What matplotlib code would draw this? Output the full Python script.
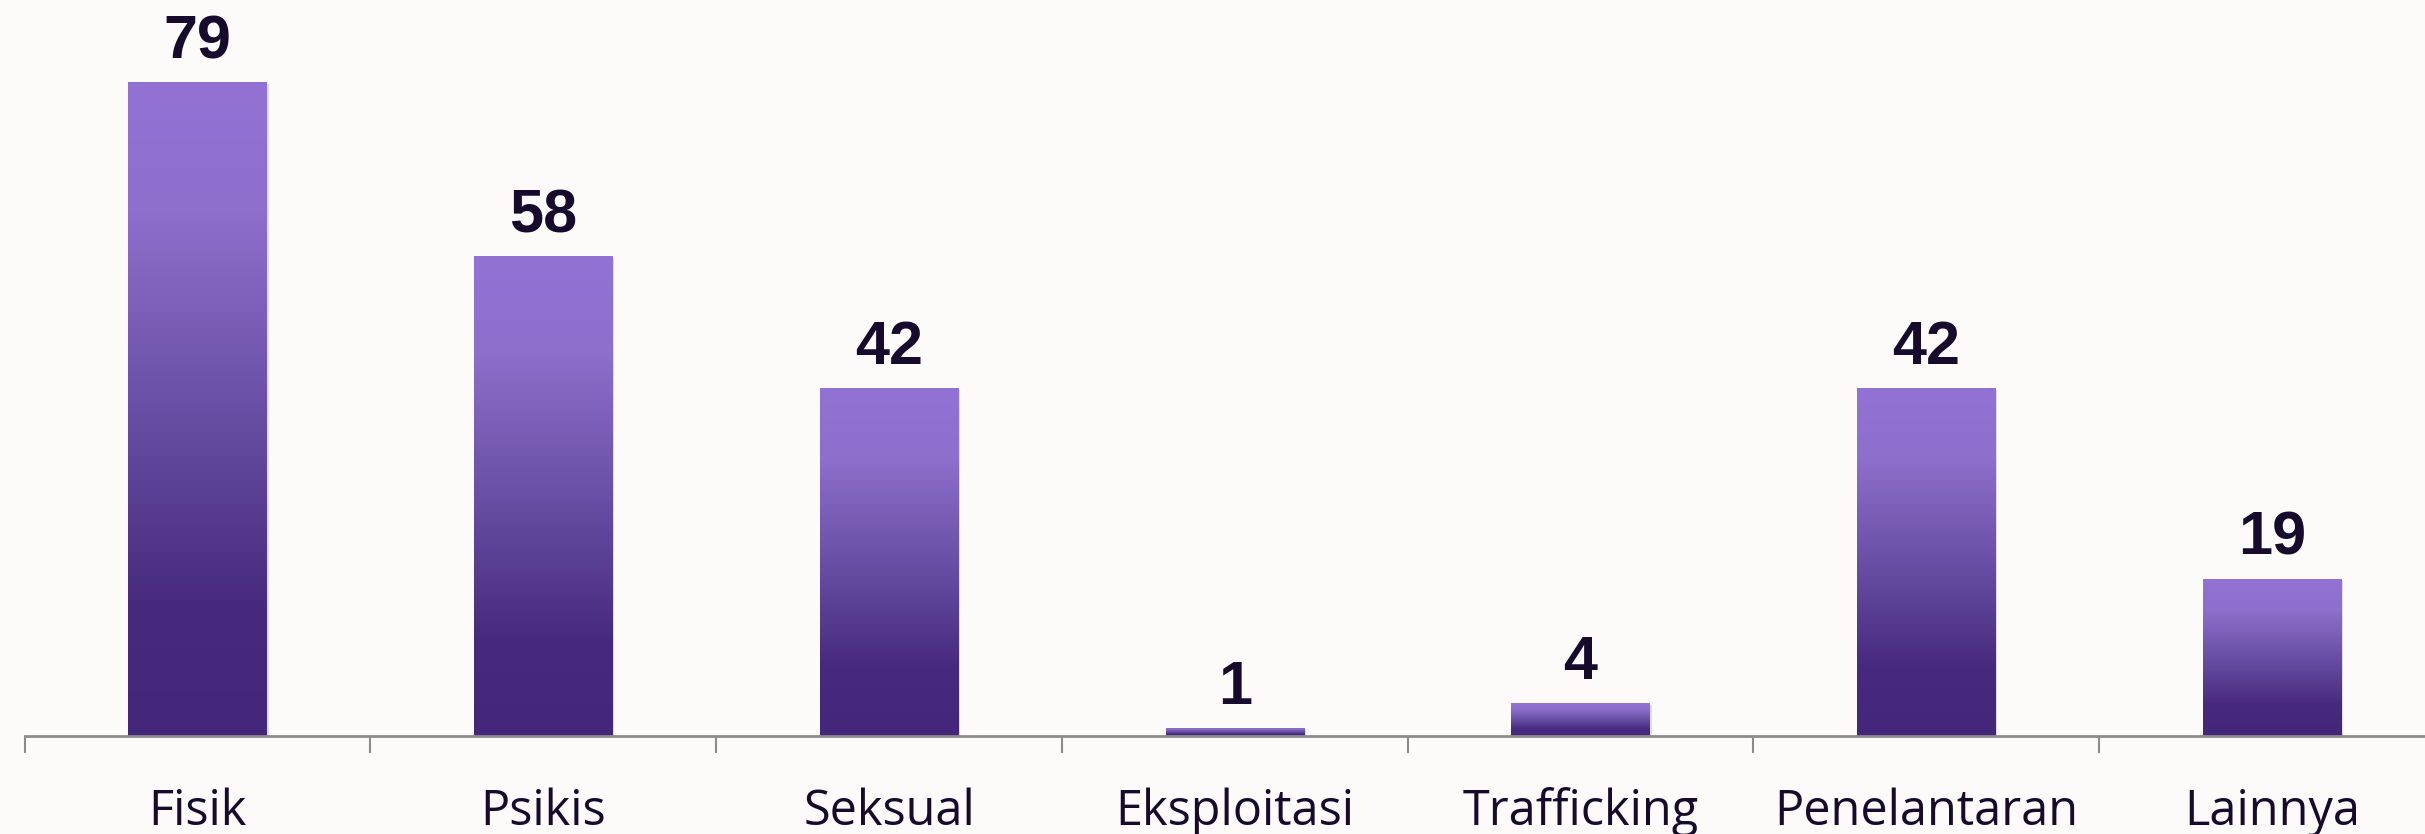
import numpy as np
import matplotlib
matplotlib.use("Agg")
import matplotlib.pyplot as plt
import matplotlib.transforms as mtransforms
from matplotlib.colors import LinearSegmentedColormap

categories = ["Fisik", "Psikis", "Seksual", "Eksploitasi", "Trafficking", "Penelantaran", "Lainnya"]
values = [79, 58, 42, 1, 4, 42, 19]

bg = "#fcfbfa"
text_dark = "#160b2c"
axis_grey = "#8c8c8c"

# vertical gradient, dark at the bottom, light at the top
grad_cmap = LinearSegmentedColormap.from_list(
    "bar_grad",
    [(0.0, "#44277a"), (0.2, "#472a7d"), (0.45, "#634a9e"), (0.8, "#8e6fcc"), (1.0, "#9272d3")])

fig = plt.figure(figsize=(24.25, 8.34), dpi=100, facecolor=bg)
ax = fig.add_axes([24.7 / 2425, 98 / 834, 2420 / 2425, 728.6 / 834])
ax.set_facecolor(bg)

x = np.arange(len(categories))
bars = ax.bar(x, values, width=0.40, color="none", edgecolor="none", zorder=3)

grad = np.linspace(0, 1, 256).reshape(-1, 1)
for rect, v in zip(bars, values):
    x0 = rect.get_x()
    w = rect.get_width()
    # soft shadow down-right
    shadow_tr = ax.transData + mtransforms.ScaledTranslation(2 / 100, -2 / 100, fig.dpi_scale_trans)
    ax.add_patch(plt.Rectangle((x0, 0), w, v, facecolor="#000000", alpha=0.12,
                               edgecolor="none", transform=shadow_tr, zorder=2))
    im = ax.imshow(grad, cmap=grad_cmap, origin="lower", aspect="auto",
                   extent=(x0, x0 + w, 0, v), zorder=3, interpolation="bilinear")
    im.set_clip_path(rect)
    ax.text(x0 + w / 2, v + 1.3, str(v), ha="center", va="bottom",
            fontsize=44, fontweight="bold", family="Liberation Sans", color=text_dark, zorder=4)

ax.set_xlim(-0.5, len(categories) - 0.5)
ax.set_ylim(0, 88)

for side in ["top", "right", "left"]:
    ax.spines[side].set_visible(False)
ax.spines["bottom"].set_color(axis_grey)
ax.spines["bottom"].set_linewidth(2)
ax.spines["bottom"].set_zorder(5)

ax.set_yticks([])
ax.set_xticks(x)
ax.set_xticklabels(categories, fontsize=35, family="Open Sans", color=text_dark)
ax.tick_params(axis="x", which="major", length=0, pad=37)
ax.set_xticks(np.arange(-0.5, len(categories) + 0.5, 1), minor=True)
ax.tick_params(axis="x", which="minor", length=12, width=1.5, color=axis_grey)

fig.savefig("out.png", dpi=100, facecolor=bg)
